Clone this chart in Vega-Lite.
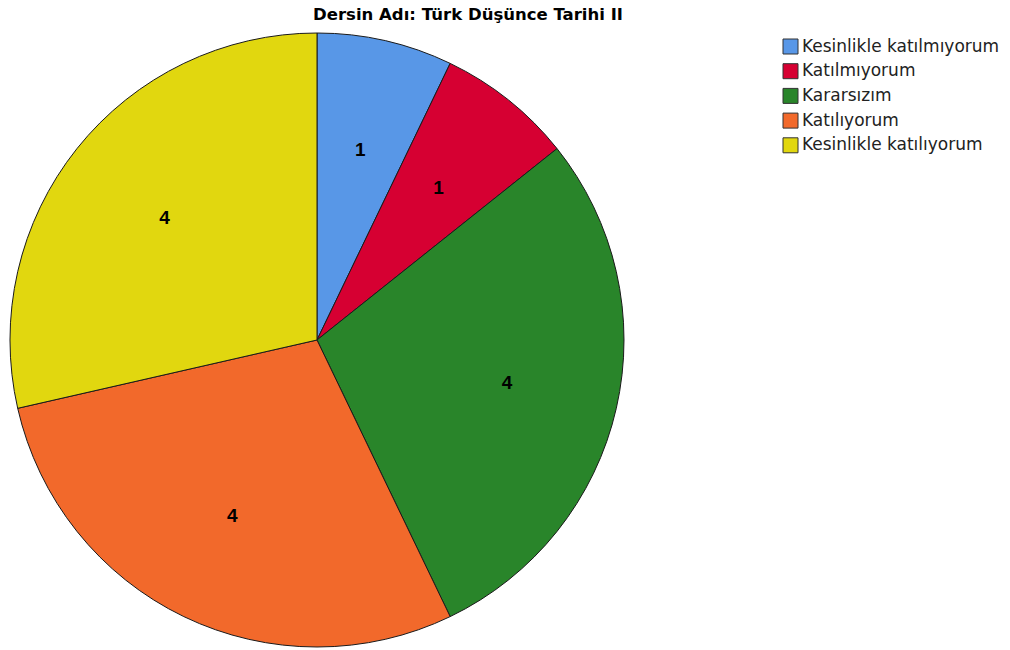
{
  "$schema": "https://vega.github.io/schema/vega-lite/v6.json",
  "autosize": "none",
  "width": 634,
  "height": 620,
  "padding": {"top": 30, "left": 0, "right": 376, "bottom": 0},
  "background": "white",
  "config": {"view": {"stroke": null}, "font": "Liberation Sans"},
  "title": {
    "text": "Dersin Adı: Türk Düşünce Tarihi II",
    "font": "DejaVu Sans",
    "fontSize": 16.5,
    "fontWeight": "bold",
    "color": "#000000",
    "anchor": "middle",
    "dx": 151,
    "offset": 7
  },
  "data": {
    "values": [
      {"sira": 1, "yanit": "Kesinlikle katılmıyorum", "sayi": 1},
      {"sira": 2, "yanit": "Katılmıyorum", "sayi": 1},
      {"sira": 3, "yanit": "Kararsızım", "sayi": 4},
      {"sira": 4, "yanit": "Katılıyorum", "sayi": 4},
      {"sira": 5, "yanit": "Kesinlikle katılıyorum", "sayi": 4}
    ]
  },
  "encoding": {
    "theta": {"field": "sayi", "type": "quantitative", "stack": true},
    "order": {"field": "sira", "type": "quantitative"},
    "color": {
      "field": "yanit",
      "type": "nominal",
      "sort": ["Kesinlikle katılmıyorum", "Katılmıyorum", "Kararsızım", "Katılıyorum", "Kesinlikle katılıyorum"],
      "scale": {
        "domain": ["Kesinlikle katılmıyorum", "Katılmıyorum", "Kararsızım", "Katılıyorum", "Kesinlikle katılıyorum"],
        "range": ["#5897E7", "#D60032", "#29852A", "#F2692B", "#E1D70F"]
      },
      "legend": {
        "title": null,
        "orient": "none",
        "legendX": 782,
        "legendY": 8,
        "symbolType": "square",
        "symbolSize": 225,
        "symbolStrokeColor": "#333333",
        "symbolStrokeWidth": 1,
        "symbolOpacity": 1,
        "labelFont": "DejaVu Sans",
        "labelFontSize": 17,
        "labelColor": "#222222",
        "labelOffset": 3,
        "rowPadding": 5.7,
        "labelLimit": 300
      }
    }
  },
  "layer": [
    {
      "mark": {"type": "arc", "outerRadius": 307, "stroke": "#1a1a1a", "strokeWidth": 1}
    },
    {
      "mark": {"type": "text", "radius": 195, "font": "Liberation Sans", "fontSize": 19, "fontWeight": "bold", "color": "#000000"},
      "encoding": {
        "text": {"field": "sayi", "type": "quantitative"},
        "color": {"value": "#000000"}
      }
    }
  ]
}
